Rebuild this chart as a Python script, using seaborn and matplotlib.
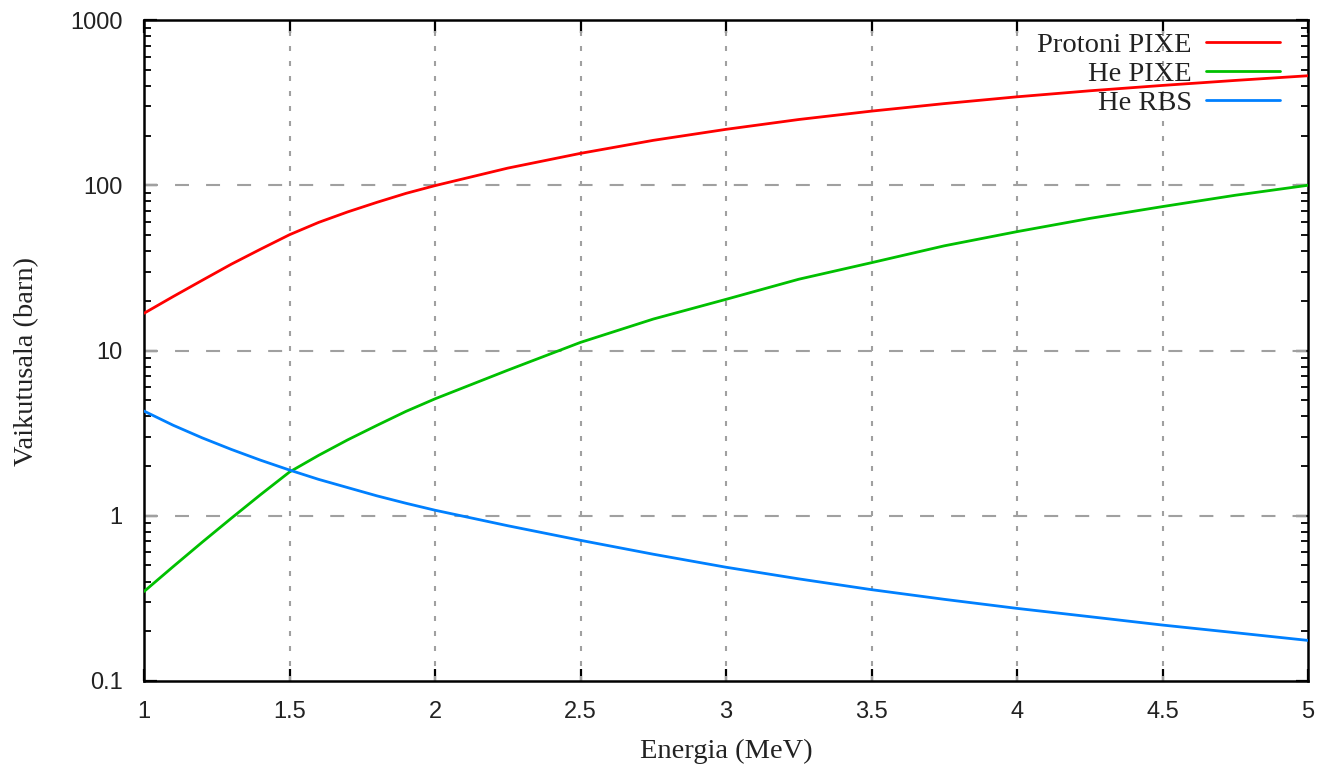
import matplotlib
matplotlib.use("Agg")
import matplotlib.pyplot as plt
import matplotlib.ticker as mticker
import numpy as np
import pandas as pd
import seaborn as sns

energy = [1.0, 1.1, 1.2, 1.3, 1.4, 1.5, 1.6, 1.7, 1.8, 1.9, 2.0,
          2.25, 2.5, 2.75, 3.0, 3.25, 3.5, 3.75, 4.0, 4.25, 4.5, 4.75, 5.0]
proton_pixe = [16.8, 21.2, 26.6, 33.3, 41.0, 50.2, 59.6, 69.0, 78.8, 89.3, 99.5,
               127, 156, 187, 218, 250, 281, 312, 343, 373, 402, 431, 460]
he_pixe = [0.348, 0.492, 0.692, 0.966, 1.34, 1.84, 2.32, 2.88, 3.52, 4.28, 5.1,
           7.6, 11.2, 15.5, 20.4, 27, 34, 43, 52.4, 63, 74.3, 87, 100]
he_rbs = [4.3, 3.53, 2.96, 2.52, 2.17, 1.89, 1.66, 1.48, 1.32, 1.19, 1.08,
          0.87, 0.71, 0.585, 0.488, 0.415, 0.357, 0.312, 0.275, 0.245, 0.218, 0.196, 0.176]
series_names = ["Protoni PIXE", "He PIXE", "He RBS"]
series_colors = ["#ff0000", "#00c000", "#0080ff"]
x_ticks = [1, 1.5, 2, 2.5, 3, 3.5, 4, 4.5, 5]
x_tick_labels = ["1", "1.5", "2", "2.5", "3", "3.5", "4", "4.5", "5"]
y_ticks = [0.1, 1, 10, 100, 1000]
y_tick_labels = ["0.1", "1", "10", "100", "1000"]

n = len(energy)
df = pd.DataFrame({
    "Energia": energy * 3,
    "value": proton_pixe + he_pixe + he_rbs,
    "series": [series_names[0]] * n + [series_names[1]] * n + [series_names[2]] * n,
})

sns.set_style("white")
serif = ["Liberation Serif", "DejaVu Serif"]
sans = ["Liberation Sans", "DejaVu Sans"]

fig = plt.figure(figsize=(13.25, 7.7), dpi=100)
ax = fig.add_axes([0.1087, 0.1156, 0.8785, 0.8584])

sns.lineplot(data=df, x="Energia", y="value", hue="series", hue_order=series_names,
             palette=series_colors, linewidth=2.0, ax=ax, legend=True, zorder=3)

ax.set_yscale("log")
ax.set_xlim(1, 5)
ax.set_ylim(0.1, 1000)

# grid
for xv in x_ticks[1:-1]:
    ax.axvline(xv, color="#a0a0a0", lw=1.5, linestyle=(0, (2.4, 4.8)), zorder=1)
for yv in y_ticks[1:-1]:
    ax.axhline(yv, color="#a0a0a0", lw=1.5, linestyle=(0, (6.7, 8.2)), zorder=1)

ax.set_xticks(x_ticks)
ax.set_xticklabels(x_tick_labels)
ax.xaxis.set_minor_locator(mticker.NullLocator())
ax.set_yticks(y_ticks)
ax.set_yticklabels(y_tick_labels)
ax.yaxis.set_minor_locator(mticker.LogLocator(base=10, subs=np.arange(2, 10)))
ax.yaxis.set_minor_formatter(mticker.NullFormatter())

ax.tick_params(which="both", direction="in", top=True, right=True, bottom=True, left=True, color="black")
ax.tick_params(which="major", length=9, width=1.6, labelsize=17)
ax.tick_params(axis="x", which="major", pad=14.5)
ax.tick_params(axis="y", which="major", pad=15.5)
ax.tick_params(which="minor", length=5, width=1.3)
for lab in ax.get_xticklabels() + ax.get_yticklabels():
    lab.set_family(sans)
    lab.set_color("#222222")

for sp in ax.spines.values():
    sp.set_visible(True)
    sp.set_color("black")
    sp.set_linewidth(1.8)

ax.set_xlabel("Energia (MeV)", family=serif, fontsize=20.5, labelpad=11, color="#222222")
ax.set_ylabel("Vaikutusala (barn)", family=serif, fontsize=20.5, color="#222222")
ax.yaxis.set_label_coords(-0.0905, 0.484)

handles, labels = ax.get_legend_handles_labels()
leg = ax.legend(handles, labels, loc="upper right", frameon=False, markerfirst=False,
                prop={"family": serif, "size": 20.5}, handlelength=2.6, handletextpad=0.5,
                labelspacing=0.105, borderaxespad=0.3, bbox_to_anchor=(0.993, 1.012))
for t in leg.get_texts():
    t.set_color("#222222")

fig.savefig("out.png", dpi=100, facecolor="white")
